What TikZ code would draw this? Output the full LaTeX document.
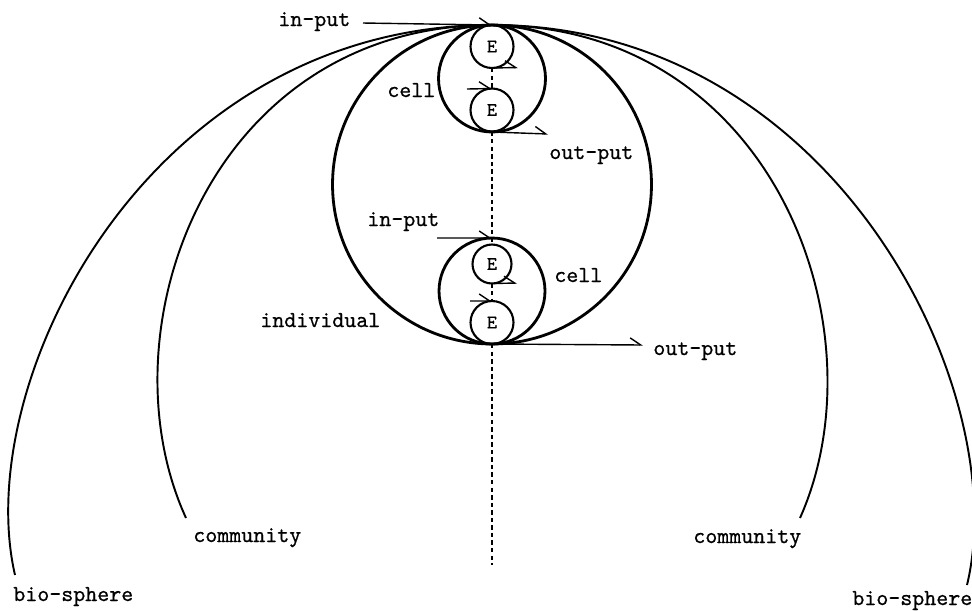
\documentclass[tikz,border=0pt]{standalone}
\usepackage{fontspec}
\newfontfamily\typew{lmmono10-regular.otf}[FakeBold=0.7]
\usetikzlibrary{arrows.meta}
\begin{document}
\begin{tikzpicture}[x=0.02cm,y=-0.02cm,
  lbl/.style={font=\typew\fontsize{13}{15}\selectfont, anchor=base west, inner sep=0pt},
  ring/.style={circle, draw, line width=1.6pt, inner sep=0pt, outer sep=0pt},
  ecirc/.style={circle, draw, line width=1.2pt, inner sep=0pt, outer sep=0pt, minimum size=0.86cm, font=\typew\fontsize{11}{12}\selectfont},
  arc/.style={line width=1.1pt},
  harp/.style={line width=0.8pt, -{Straight Barb[harpoon,length=6pt,width=8pt]}},
  dashline/.style={line width=0.9pt, dash pattern=on 2.5pt off 1.8pt}]
\useasboundingbox (0,0) rectangle (972,610);

% circles
\node[ring, minimum size=6.38cm] (ind) at (492,184.5) {};
\node[ring, minimum size=2.14cm] (cell1) at (492,78.5) {};
\node[ring, minimum size=2.12cm] (cell2) at (492,291) {};
\node[ecirc] (E1) at (492,46.5) {E};
\node[ecirc] (E2) at (492,110) {E};
\node[ecirc, minimum size=0.78cm] (E3) at (492,264) {E};
\node[ecirc] (E4) at (492,322.5) {E};

% free ends
\coordinate (comL) at (186,518);
\coordinate (comR) at (800,518);
\coordinate (bioL) at (15,575);
\coordinate (bioR) at (967,585);
\coordinate (dashEnd) at (492,565);
\coordinate (in1s) at (363,23);
\coordinate (in2s) at (467,89);
\coordinate (in3s) at (437,238);
\coordinate (in4s) at (470,301);
\coordinate (o1e) at (518,67.5);
\coordinate (o2e) at (548,134);
\coordinate (o3e) at (517,283);
\coordinate (o4e) at (643,345);

% big arcs
\draw[arc] (cell1.north) .. controls (210,25) and (100,330) .. (comL);
\draw[arc] (cell1.north) .. controls (774,25) and (884,330) .. (comR);
\draw[arc] (cell1.north) .. controls (150,25) and (-30,380) .. (bioL);
\draw[arc] (cell1.north) .. controls (834,25) and (1014,390) .. (bioR);

% dashed axis
\draw[dashline] (E1.south) -- (E2.north);
\draw[dashline] (E2.south) -- (E3.north);
\draw[dashline] (E3.south) -- (E4.north);
\draw[dashline] (E4.south) -- (dashEnd);

% arrows
\draw[harp] (in1s) -- (cell1.north);
\draw[harp] (in2s) -- (E2.north);
\draw[harp] (E1.south) -- (o1e);
\draw[harp] (cell1.south) -- (o2e);
\draw[harp] (in3s) -- (cell2.north);
\draw[harp] (in4s) -- (E4.north);
\draw[harp] (E3.south) -- (o3e);
\draw[harp] (ind.south) -- (o4e);

% labels
\node[lbl] (tIn1) at (278,26) {in-put};
\node[lbl] (tCell1) at (387,97) {cell};
\node[lbl] (tOut1) at (549,159) {out-put};
\node[lbl] (tIn2) at (367,226) {in-put};
\node[lbl] (tCell2) at (554,282) {cell};
\node[lbl] (tInd) at (260,327) {individual};
\node[lbl] (tOut2) at (653,355) {out-put};
\node[lbl] (tComL) at (193,542) {community};
\node[lbl] (tComR) at (693,543) {community};
\node[lbl] (tBioL) at (13,601) {bio-sphere};
\node[lbl] (tBioR) at (852,605) {bio-sphere};
\end{tikzpicture}
\end{document}
